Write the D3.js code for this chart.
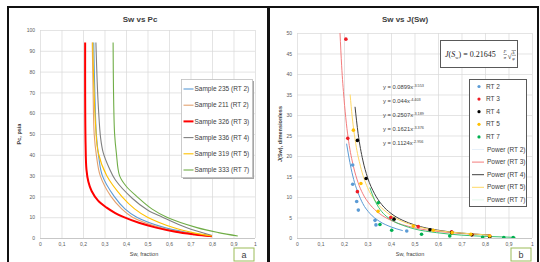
<!DOCTYPE html>
<html>
<head>
<meta charset="utf-8">
<script src="https://cdn.jsdelivr.net/npm/d3@7"></script>
<style>
    body { margin: 0; background: #fff; }
    svg { display: block; font-family: "Liberation Sans", Arial, sans-serif; }
    .tick text { fill: #595959; font-size: 5px; }
    .tick line { stroke: #d9d9d9; stroke-width: 0.7; }
    .title { font-weight: bold; font-size: 8px; fill: #404040; text-anchor: middle; }
    .xlab { font-size: 5.5px; fill: #404040; text-anchor: middle; }
    .ylab { font-size: 5.5px; font-weight: bold; fill: #404040; text-anchor: middle; }
    .leg { font-size: 6.5px; fill: #404040; }
    .eq { font-size: 5.8px; fill: #404040; }
</style>
</head>
<body>
<svg id="fig" width="540" height="262"></svg>
<script>

// shared x ticks (Sw, fraction)
var xTicks = [0, 0.1, 0.2, 0.3, 0.4, 0.5, 0.6, 0.7, 0.8, 0.9, 1];
var xTickLabels = ["0", "0,1", "0,2", "0,3", "0,4", "0,5", "0,6", "0,7", "0,8", "0,9", "1"];
var pcTicks = [0, 10, 20, 30, 40, 50, 60, 70, 80, 90, 100];
var jTicks = [0, 5, 10, 15, 20, 25, 30, 35, 40, 45, 50];

// panel a: capillary pressure curves [Sw, Pc]
var sampleNames = ["Sample 235 (RT 2)", "Sample 211 (RT 2)", "Sample 326 (RT 3)",
    "Sample 336 (RT 4)", "Sample 319 (RT 5)", "Sample 333 (RT 7)"];
var s235 = [[0.25, 94], [0.255, 70], [0.262, 50], [0.272, 40], [0.29, 30], [0.345, 20],
    [0.395, 14], [0.45, 10], [0.58, 5], [0.68, 2.8], [0.8, 1]];
var s211 = [[0.243, 94], [0.247, 70], [0.252, 50], [0.262, 40], [0.28, 30], [0.33, 20],
    [0.38, 14], [0.43, 10], [0.56, 5], [0.67, 2.6], [0.79, 0.8]];
var s326 = [[0.21, 94], [0.21, 70], [0.212, 45], [0.216, 33], [0.225, 27], [0.24, 22.6],
    [0.27, 18], [0.31, 14.6], [0.35, 12], [0.39, 10], [0.46, 7.3], [0.54, 5], [0.63, 3],
    [0.72, 1.7], [0.8, 0.8]];
var s336 = [[0.26, 94], [0.266, 75], [0.272, 62], [0.282, 48], [0.294, 41], [0.32, 34],
    [0.35, 28], [0.43, 19], [0.5, 13.5], [0.57, 10], [0.68, 5], [0.8, 1.2]];
var s319 = [[0.245, 94], [0.25, 75], [0.258, 55], [0.271, 41], [0.31, 30], [0.38, 20],
    [0.44, 14], [0.5, 10], [0.62, 5], [0.71, 2.6], [0.8, 1]];
var s333 = [[0.34, 94], [0.342, 70], [0.347, 50], [0.355, 41], [0.37, 30], [0.4, 25],
    [0.45, 20], [0.52, 14], [0.59, 10], [0.73, 5], [0.83, 2.6], [0.92, 1]];
var samples = [s235, s211, s326, s336, s319, s333];

// panel b: J function points and power trendlines [Sw, J]
var rtNames = ["RT 2", "RT 3", "RT 4", "RT 5", "RT 7"];
var ptsRT2 = [[0.237, 17.8], [0.237, 13.1], [0.254, 8.9], [0.261, 6.8], [0.332, 4.3],
    [0.336, 3.2], [0.467, 1.7]];
var ptsRT3 = [[0.208, 48.5], [0.216, 24.3], [0.257, 11.3], [0.399, 5.0], [0.516, 2.8],
    [0.658, 1.5], [0.745, 0.8], [0.82, 0.5]];
var ptsRT4 = [[0.257, 23.8], [0.294, 14.5], [0.413, 4.6], [0.566, 2.0], [0.658, 1.3],
    [0.743, 0.8], [0.82, 0.3]];
var ptsRT5 = [[0.24, 26.3], [0.272, 13.3], [0.345, 6.5], [0.495, 2.9], [0.58, 1.9],
    [0.66, 1.3], [0.74, 0.9], [0.82, 0.5]];
var ptsRT7 = [[0.346, 8.6], [0.353, 3.3], [0.403, 1.9], [0.53, 0.9], [0.65, 0.5],
    [0.79, 0.2], [0.88, 0.1], [0.92, 0.1]];
var fitRT2 = [[0.211, 23], [0.22, 20], [0.23, 17], [0.245, 13.5], [0.26, 11], [0.28, 8.4],
    [0.31, 6], [0.35, 4.1], [0.4, 2.7], [0.45, 1.8]];
var fitRT3 = [[0.183, 50], [0.19, 42], [0.2, 34], [0.21, 28], [0.22, 23.5], [0.24, 17.5],
    [0.26, 13.5], [0.28, 10.8], [0.31, 8.2], [0.35, 6], [0.4, 4.3], [0.5, 2.5], [0.6, 1.6],
    [0.7, 1.1], [0.82, 0.75]];
var fitRT4 = [[0.247, 32], [0.26, 25.5], [0.28, 19], [0.3, 14.8], [0.33, 10.8], [0.36, 8.2],
    [0.4, 6], [0.45, 4.3], [0.5, 3.2], [0.6, 1.9], [0.7, 1.2], [0.82, 0.75]];
var fitRT5 = [[0.226, 35], [0.235, 29.5], [0.25, 23], [0.27, 17.5], [0.3, 12.3], [0.33, 9.3],
    [0.37, 6.8], [0.4, 5.5], [0.5, 3], [0.6, 1.8], [0.7, 1.2], [0.82, 0.7]];
var fitRT7 = [[0.31, 12.3], [0.33, 9.3], [0.353, 7], [0.38, 5.3], [0.41, 4.1], [0.45, 3.1],
    [0.5, 2.2], [0.594, 1.3], [0.7, 0.7], [0.8, 0.4], [0.93, 0.15]];
var rtPoints = [ptsRT2, ptsRT3, ptsRT4, ptsRT5, ptsRT7];
var rtFits = [fitRT2, fitRT3, fitRT4, fitRT5, fitRT7];
var eqCoef = ["0.0899", "0.044", "0.2507", "0.1621", "0.1124"];
var eqExp = ["-3.553", "-4.403", "-3.189", "-3.376", "-2.956"];


// panel settings
var panelA = {
    box: [8, 7, 260, 262],
    plot: [40, 30, 255, 238], // x0, y0, x1, y1
    colors: ["#5b9bd5", "#e3a26f", "#ff0000", "#808080", "#ffc000", "#70ad47"],
    widths: [1.1, 1.1, 2, 1.1, 1.1, 1.1]
};
var panelB = {
    box: [269, 7, 269, 262],
    plot: [297, 33, 532, 238],
    ptColors: ["#5b9bd5", "#ee1c25", "#000000", "#ffc000", "#00b050"],
    fitColors: ["#5b9bd5", "#f47c7c", "#404040", "#ffd966", "#3cc070"]
};

var svg = d3.select("#fig");

function xLabel(d, i) { return xTickLabels[i]; }

/**
 * Build grid + axes for one panel, return scales
 */
function makeAxes(p, yTicks) {
    var x = d3.scaleLinear().domain([0, 1]).range([p.plot[0], p.plot[2]]);
    var y = d3.scaleLinear().domain([0, yTicks[yTicks.length - 1]]).range([p.plot[3], p.plot[1]]);
    var w = p.plot[2] - p.plot[0], h = p.plot[3] - p.plot[1];

    var gx = svg.append("g").attr("transform", "translate(0," + p.plot[3] + ")")
            .call(d3.axisBottom(x).tickValues(xTicks).tickFormat(xLabel)
                .tickSize(-h).tickPadding(4));
    gx.select(".domain").remove();
    var gy = svg.append("g").attr("transform", "translate(" + p.plot[0] + ",0)")
            .call(d3.axisLeft(y).tickValues(yTicks).tickSize(-w).tickPadding(5));
    gy.select(".domain").remove();

    // bottom axis line
    svg.append("line").attr("x1", p.plot[0]).attr("x2", p.plot[2])
            .attr("y1", p.plot[3] + 0.5).attr("y2", p.plot[3] + 0.5)
            .attr("stroke", "#bfbfbf").attr("stroke-width", 0.8);
    return {x: x, y: y};
}

function clipFor(id, p) {
    svg.append("clipPath").attr("id", id).append("rect")
            .attr("x", p.plot[0]).attr("y", p.plot[1])
            .attr("width", p.plot[2] - p.plot[0]).attr("height", p.plot[3] - p.plot[1]);
}

function panelFrame(p, letter) {
    svg.append("rect").attr("x", p.box[0]).attr("y", p.box[1])
            .attr("width", p.box[2]).attr("height", p.box[3])
            .attr("fill", "none").attr("stroke", "#111").attr("stroke-width", 2);
    var lx = p.plot[2] - 21, ly = 248;
    svg.append("rect").attr("x", lx).attr("y", ly).attr("width", 20).attr("height", 13)
            .attr("fill", "#fff").attr("stroke", "#9bbb59").attr("stroke-width", 1);
    svg.append("text").text(letter).attr("x", lx + 10).attr("y", ly + 10)
            .attr("text-anchor", "middle").attr("font-size", "9px").attr("fill", "#404040");
}


// ---------- panel a ----------
var A = makeAxes(panelA, pcTicks);
clipFor("clipA", panelA);
svg.append("text").attr("class", "title").text("Sw vs Pc").attr("x", 140).attr("y", 22);
svg.append("text").attr("class", "xlab").text("Sw, fraction").attr("x", 144).attr("y", 256);
svg.append("text").attr("class", "ylab").text("Pc, psia")
        .attr("transform", "translate(21,134) rotate(-90)");

var lineA = d3.line().x(function (d) { return A.x(d[0]); })
        .y(function (d) { return A.y(d[1]); })
        .curve(d3.curveCatmullRom.alpha(0.5));
svg.append("g").attr("clip-path", "url(#clipA)")
        .selectAll("path").data(samples).enter().append("path")
        .attr("d", lineA).attr("fill", "none")
        .attr("stroke", function (d, i) { return panelA.colors[i]; })
        .attr("stroke-width", function (d, i) { return panelA.widths[i]; });

// legend a
svg.append("rect").attr("x", 183).attr("y", 81).attr("width", 71).attr("height", 98)
        .attr("fill", "#a6a6a6");
svg.append("rect").attr("x", 181.5).attr("y", 79.5).attr("width", 71).attr("height", 98)
        .attr("fill", "#fff").attr("stroke", "#bfbfbf").attr("stroke-width", 0.8);
var legA = svg.selectAll(".legA").data(sampleNames).enter().append("g")
        .attr("transform", function (d, i) { return "translate(183.5," + (89 + i * 16.2) + ")"; });
legA.append("line").attr("x1", 0).attr("x2", 10).attr("y1", 0).attr("y2", 0)
        .attr("stroke", function (d, i) { return panelA.colors[i]; })
        .attr("stroke-width", function (d, i) { return panelA.widths[i]; });
legA.append("text").attr("class", "leg").text(function (d) { return d; })
        .attr("x", 11).attr("y", 2.2);

panelFrame(panelA, "a");


// ---------- panel b ----------
var B = makeAxes(panelB, jTicks);
clipFor("clipB", panelB);
svg.append("text").attr("class", "title").text("Sw vs J(Sw)").attr("x", 405).attr("y", 22);
svg.append("text").attr("class", "xlab").text("Sw, fraction").attr("x", 410).attr("y", 256);
svg.append("text").attr("class", "ylab").attr("font-size", "5px")
        .attr("transform", "translate(282,134) rotate(-90)")
        .text("J(Sw), dimensionless");

var lineB = d3.line().x(function (d) { return B.x(d[0]); })
        .y(function (d) { return B.y(d[1]); })
        .curve(d3.curveMonotoneX);
var gB = svg.append("g").attr("clip-path", "url(#clipB)");
gB.selectAll("path").data(rtFits).enter().append("path")
        .attr("d", lineB).attr("fill", "none")
        .attr("stroke", function (d, i) { return panelB.fitColors[i]; })
        .attr("stroke-width", 1);
rtPoints.forEach(function (pts, i) {
    gB.selectAll(".pt" + i).data(pts).enter().append("circle")
            .attr("cx", function (d) { return B.x(d[0]); })
            .attr("cy", function (d) { return B.y(d[1]); })
            .attr("r", 1.8).attr("fill", panelB.ptColors[i]);
});

// trendline equations
var eq = svg.selectAll(".eq").data(eqCoef).enter().append("text").attr("class", "eq")
        .attr("x", 383).attr("y", function (d, i) { return 89 + i * 14; });
eq.append("tspan").text(function (d) { return "y = " + d + "x"; });
eq.append("tspan").attr("dy", -2.3).attr("font-size", "3.8px")
        .text(function (d, i) { return eqExp[i]; });

// J function box
svg.append("rect").attr("x", 440.5).attr("y", 40.5).attr("width", 77).attr("height", 27)
        .attr("fill", "#fff").attr("stroke", "#595959").attr("stroke-width", 1);
var jf = svg.append("g").attr("font-family", "'Liberation Serif', serif").attr("fill", "#222");
var jt = jf.append("text").attr("x", 445).attr("y", 57).attr("font-size", "8px");
jt.append("tspan").attr("font-style", "italic").text("J");
jt.append("tspan").text("(");
jt.append("tspan").attr("font-style", "italic").text("S");
jt.append("tspan").attr("font-size", "4.5px").attr("dy", 1.5).text("w");
jt.append("tspan").attr("dy", -1.5).text(") = 0.21645");
jf.append("text").text("P").attr("x", 503.5).attr("y", 53).attr("font-size", "4.5px").attr("font-style", "italic");
jf.append("line").attr("x1", 503.5).attr("x2", 507).attr("y1", 54.5).attr("y2", 54.5).attr("stroke", "#222").attr("stroke-width", 0.4);
jf.append("text").text("σ").attr("x", 503.7).attr("y", 59).attr("font-size", "4.5px").attr("font-style", "italic");
jf.append("text").text("√").attr("x", 507.5).attr("y", 59).attr("font-size", "8px");
jf.append("line").attr("x1", 511.5).attr("x2", 516).attr("y1", 50.5).attr("y2", 50.5).attr("stroke", "#222").attr("stroke-width", 0.4);
jf.append("text").text("k").attr("x", 512.5).attr("y", 54).attr("font-size", "4.5px").attr("font-style", "italic");
jf.append("line").attr("x1", 512).attr("x2", 516).attr("y1", 55.3).attr("y2", 55.3).attr("stroke", "#222").attr("stroke-width", 0.4);
jf.append("text").text("φ").attr("x", 512.3).attr("y", 59.5).attr("font-size", "4.5px").attr("font-style", "italic");

// legend b
svg.append("rect").attr("x", 469.5).attr("y", 79.5).attr("width", 57).attr("height", 127)
        .attr("fill", "#fff").attr("stroke", "#595959").attr("stroke-width", 1);
var legP = svg.selectAll(".legP").data(rtNames).enter().append("g")
        .attr("transform", function (d, i) { return "translate(479," + (86.5 + i * 12.6) + ")"; });
legP.append("circle").attr("r", 1.6).attr("fill", function (d, i) { return panelB.ptColors[i]; });
legP.append("text").attr("class", "leg").attr("font-size", "5.5px").attr("x", 7).attr("y", 2)
        .text(function (d) { return d; });
var legF = svg.selectAll(".legF").data(rtNames).enter().append("g")
        .attr("transform", function (d, i) { return "translate(472," + (149.5 + i * 12.6) + ")"; });
legF.append("line").attr("x1", 0).attr("x2", 12).attr("y1", 0).attr("y2", 0)
        .attr("stroke", function (d, i) { return panelB.fitColors[i]; })
        .attr("stroke-opacity", function (d, i) { return (i === 0 || i === 4) ? 0.15 : 1; })
        .attr("stroke-width", 1);
legF.append("text").attr("class", "leg").attr("font-size", "5.5px").attr("x", 15).attr("y", 2)
        .text(function (d) { return "Power (" + d + ")"; });

panelFrame(panelB, "b");

</script>
</body>
</html>
